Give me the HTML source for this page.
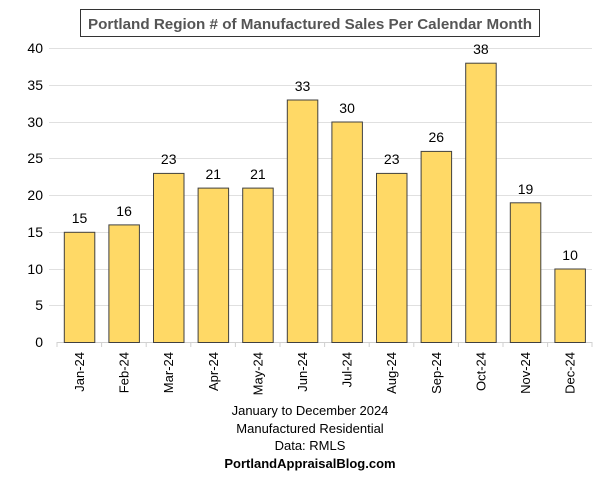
<!DOCTYPE html>
<html><head><meta charset="utf-8"><style>body{margin:0;background:#fff}svg{display:block}</style></head><body>
<svg width="606" height="480" xmlns="http://www.w3.org/2000/svg" font-family="Liberation Sans, sans-serif">
<rect width="606" height="480" fill="#fff"/>
<rect x="80.5" y="9.5" width="459" height="27" fill="#fff" stroke="#333" stroke-width="1"/>
<text x="88" y="29" font-size="15" font-weight="bold" fill="#555" textLength="444" lengthAdjust="spacingAndGlyphs">Portland Region # of Manufactured Sales Per Calendar Month</text>
<g stroke="#e0e0e0" stroke-width="1">
<line x1="49" x2="592" y1="48.5" y2="48.5"/><line x1="49" x2="592" y1="85.5" y2="85.5"/>
<line x1="49" x2="592" y1="122.5" y2="122.5"/><line x1="49" x2="592" y1="158.5" y2="158.5"/>
<line x1="49" x2="592" y1="195.5" y2="195.5"/><line x1="49" x2="592" y1="232.5" y2="232.5"/>
<line x1="49" x2="592" y1="269.5" y2="269.5"/><line x1="49" x2="592" y1="305.5" y2="305.5"/>
</g>
<line x1="57" x2="592" y1="342.5" y2="342.5" stroke="#d0d0d0"/>
<g stroke="#d0d0d0"><line x1="57" x2="57" y1="342" y2="347"/><line x1="101.6" x2="101.6" y1="342" y2="347"/><line x1="146.2" x2="146.2" y1="342" y2="347"/><line x1="190.8" x2="190.8" y1="342" y2="347"/><line x1="235.4" x2="235.4" y1="342" y2="347"/><line x1="280" x2="280" y1="342" y2="347"/><line x1="324.6" x2="324.6" y1="342" y2="347"/><line x1="369.2" x2="369.2" y1="342" y2="347"/><line x1="413.8" x2="413.8" y1="342" y2="347"/><line x1="458.4" x2="458.4" y1="342" y2="347"/><line x1="503" x2="503" y1="342" y2="347"/><line x1="547.6" x2="547.6" y1="342" y2="347"/><line x1="592" x2="592" y1="342" y2="347"/></g>
<g font-size="14" fill="#000" text-anchor="end">
<text x="43" y="53">40</text><text x="43" y="90">35</text><text x="43" y="127">30</text><text x="43" y="163">25</text><text x="43" y="200">20</text><text x="43" y="237">15</text><text x="43" y="274">10</text><text x="43" y="310">5</text><text x="43" y="347">0</text>
</g>
<g fill="#FFD966" stroke="#404040" stroke-width="1">
<rect x="64.3" y="232.3" width="30.5" height="110.2"/>
<rect x="108.9" y="224.9" width="30.5" height="117.6"/>
<rect x="153.5" y="173.4" width="30.5" height="169.1"/>
<rect x="198.1" y="188.1" width="30.5" height="154.4"/>
<rect x="242.7" y="188.1" width="30.5" height="154.4"/>
<rect x="287.3" y="100" width="30.5" height="242.5"/>
<rect x="331.9" y="122" width="30.5" height="220.5"/>
<rect x="376.5" y="173.4" width="30.5" height="169.1"/>
<rect x="421.1" y="151.4" width="30.5" height="191.1"/>
<rect x="465.7" y="63.2" width="30.5" height="279.3"/>
<rect x="510.3" y="202.8" width="30.5" height="139.7"/>
<rect x="554.9" y="269" width="30.5" height="73.5"/>
</g>
<g font-size="14" fill="#000" text-anchor="middle">
<text x="79.5" y="223">15</text><text x="124.1" y="216">16</text><text x="168.7" y="164">23</text><text x="213.3" y="179">21</text><text x="257.9" y="179">21</text><text x="302.5" y="91">33</text><text x="347.1" y="113">30</text><text x="391.7" y="164">23</text><text x="436.3" y="142">26</text><text x="480.9" y="54">38</text><text x="525.5" y="194">19</text><text x="570.1" y="260">10</text>
</g>
<g font-size="13" fill="#000" text-anchor="end">
<text transform="translate(84,352) rotate(-90)">Jan-24</text>
<text transform="translate(128.6,352) rotate(-90)">Feb-24</text>
<text transform="translate(173.2,352) rotate(-90)">Mar-24</text>
<text transform="translate(217.8,352) rotate(-90)">Apr-24</text>
<text transform="translate(262.4,352) rotate(-90)">May-24</text>
<text transform="translate(307,352) rotate(-90)">Jun-24</text>
<text transform="translate(351.6,352) rotate(-90)">Jul-24</text>
<text transform="translate(396.2,352) rotate(-90)">Aug-24</text>
<text transform="translate(440.8,352) rotate(-90)">Sep-24</text>
<text transform="translate(485.4,352) rotate(-90)">Oct-24</text>
<text transform="translate(530,352) rotate(-90)">Nov-24</text>
<text transform="translate(574.6,352) rotate(-90)">Dec-24</text>
</g>
<g font-size="13" fill="#000" text-anchor="middle">
<text x="310" y="415">January to December 2024</text>
<text x="310" y="433">Manufactured Residential</text>
<text x="310" y="450">Data: RMLS</text>
<text x="310" y="468" font-weight="bold">PortlandAppraisalBlog.com</text>
</g>
</svg>
</body></html>
